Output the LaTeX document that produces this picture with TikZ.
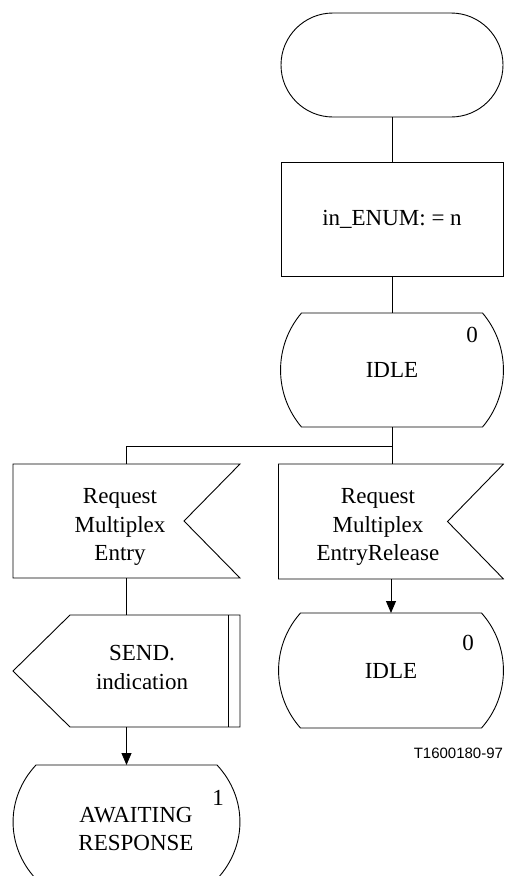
\documentclass[tikz,border=0pt]{standalone}
\usepackage{fontspec}
\setmainfont{Liberation Serif}
\newfontfamily\figsans{Liberation Sans}
\usetikzlibrary{calc,arrows.meta}
\newcommand\sdlstate[2]{%
  \draw[ln] ($(#1.north west)+(#2,0)$) -- ($(#1.north east)+(-#2,0)$)
    .. controls +(1.33*#2,32.8) and +(1.33*#2,-32.8) .. ($(#1.south east)+(-#2,0)$)
    -- ($(#1.south west)+(#2,0)$)
    .. controls +(-1.33*#2,-32.8) and +(-1.33*#2,32.8) .. ($(#1.north west)+(#2,0)$) -- cycle;}
\newcommand\sdlinput[1]{%
  \draw[ln] (#1.north west) -- (#1.north east) -- ($(#1.east)+(-56,0)$)
    -- (#1.south east) -- (#1.south west) -- cycle;}
\newcommand\sdloutput[1]{%
  \draw[ln] (#1.west) -- ($(#1.north west)+(57,0)$) -- (#1.north east)
    -- (#1.south east) -- ($(#1.south west)+(57,0)$) -- cycle;
  \draw[ln] ($(#1.north east)+(-12,0)$) -- ($(#1.south east)+(-12,0)$);}
\begin{document}
\begin{tikzpicture}[x=1pt,y=-1pt,
  every node/.style={inner sep=0pt, outer sep=0pt},
  ln/.style={line width=0.9pt, line join=miter},
  arr/.style={ln, -{Triangle[length=12pt,width=10pt]}},
  shp/.style={draw=none, font=\fontsize{23}{28.5}\selectfont, align=center},
  txt/.style={font=\fontsize{23}{28.5}\selectfont, align=center},
  num/.style={font=\fontsize{23}{26}\selectfont},
  tag/.style={font=\figsans\fontsize{15}{18}\selectfont, anchor=east}]
\useasboundingbox (0,0) rectangle (504,876);
\clip (0,0) rectangle (504,876);

% shapes
\node[draw, ln, rounded corners=52pt, minimum width=222pt, minimum height=104pt] (start) at (392,65) {};
\node[draw, ln, txt, minimum width=222pt, minimum height=114pt] (task) at (392,219) {in\_ENUM: = n};
\node[shp, minimum width=223pt, minimum height=114pt] (idle1) at (392,370) {IDLE};
\sdlstate{idle1}{21}
\node[shp, minimum width=227pt, minimum height=114pt] (inL) at (126.5,521) {};
\sdlinput{inL}
\node[shp, minimum width=225pt, minimum height=115pt] (inR) at (391,521.5) {};
\sdlinput{inR}
\node[shp, minimum width=227pt, minimum height=112pt] (out) at (126.5,671) {};
\sdloutput{out}
\node[shp, minimum width=225pt, minimum height=115pt] (idle2) at (391,670.5) {IDLE};
\sdlstate{idle2}{22}
\node[shp, minimum width=227pt, minimum height=114pt] (await) at (126.5,822) {};
\sdlstate{await}{23}

% texts
\node[txt] (inLt) at (120,527) {Request\\Multiplex\\Entry};
\node[txt] (inRt) at (378,527) {Request\\Multiplex\\EntryRelease};
\node[txt] (outt) at (142,667.5) {SEND.\\indication};
\node[txt] (awt) at (136,829) {AWAITING\\RESPONSE};
\node[num] (n0a) at (472,335) {0};
\node[num] (n0b) at (468,643) {0};
\node[num] (n1) at (218,798) {1};
\node[tag] (fig) at (503,753) {T1600180-97};

% connectors
\coordinate (br) at (392,446);
\draw[ln] (start.south) -- (task.north);
\draw[ln] (task.south) -- (idle1.north);
\draw[ln] (idle1.south) -- (br) -| (inL.north);
\draw[ln] (br) -- (br |- inR.north);
\draw[ln] (inL.south) -- (out.north);
\draw[arr] (out.south) -- (await.north);
\draw[arr] (inR.south) -- (inR.south |- idle2.north);
\end{tikzpicture}
\end{document}
